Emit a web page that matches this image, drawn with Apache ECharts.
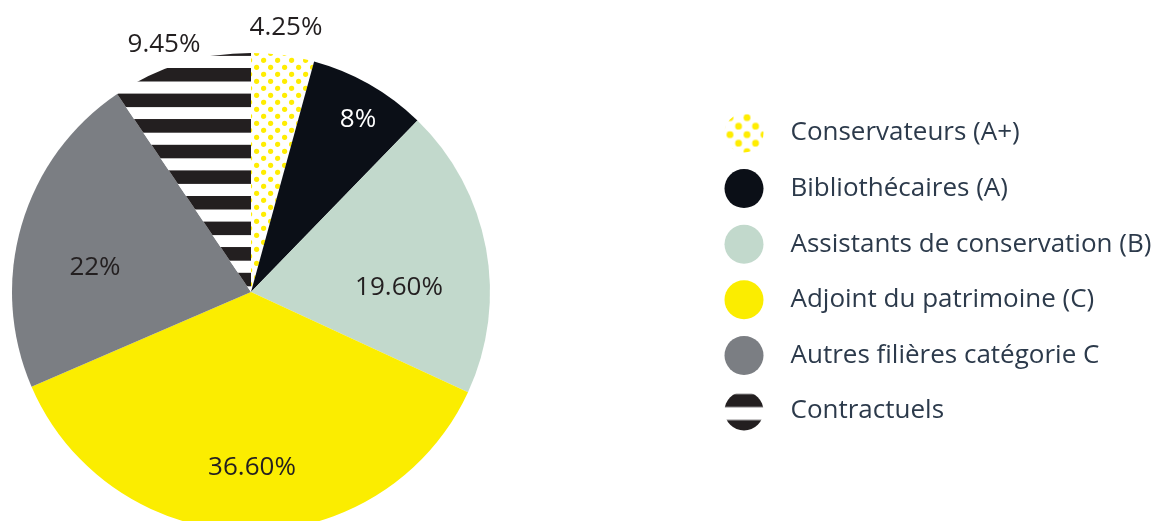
<!DOCTYPE html>
<html>
<head>
<meta charset="utf-8">
<script src="https://cdn.jsdelivr.net/npm/echarts@6/dist/echarts.min.js"></script>
<style>
html,body{margin:0;padding:0;background:#fff;}
#chart{width:1157px;height:521px;}
</style>
</head>
<body>
<div id="chart"></div>
<script>
// ---- data ----
const categories = ['Conservateurs (A+)', 'Bibliothécaires (A)', 'Assistants de conservation (B)', 'Adjoint du patrimoine (C)', 'Autres filières catégorie C', 'Contractuels'];
const values = [4.25, 8, 19.6, 36.6, 22, 9.45];
const valueLabels = ['4.25%', '8%', '19.60%', '36.60%', '22%', '9.45%'];

// ---- layout / style ----
const CENTER = [251, 292];
const RADIUS = 239;
const labelOffsets = [[35, -264], [107, -172], [148, -4], [1, 176], [-156, -24], [-87, -247]];
const labelColors = ['#231f20', '#ffffff', '#231f20', '#231f20', '#231f20', '#231f20'];
const FONT = 'Open Sans';

function dotTile(size, pts, r, color) {
  const c = document.createElement('canvas');
  c.width = size; c.height = size;
  const g = c.getContext('2d');
  g.fillStyle = '#ffffff'; g.fillRect(0, 0, size, size);
  g.fillStyle = color;
  pts.forEach(p => {
    for (let dx = -size; dx <= size; dx += size)
      for (let dy = -size; dy <= size; dy += size) {
        g.beginPath(); g.arc(p[0] + dx, p[1] + dy, r, 0, Math.PI * 2); g.fill();
      }
  });
  return c;
}
function stripeTile(w, h, bands, color) {
  const c = document.createElement('canvas');
  c.width = w; c.height = h;
  const g = c.getContext('2d');
  g.fillStyle = '#ffffff'; g.fillRect(0, 0, w, h);
  g.fillStyle = color;
  bands.forEach(b => { g.fillRect(0, b[0], w, b[1] - b[0]); });
  return c;
}
const YEL = '#ffed00';
const STRIPE = '#231f20';
// pie patterns (canvas anchored)
const piedots = { image: dotTile(14, [[4.6, 11.3], [11.6, 4.3]], 2.6, YEL), repeat: 'repeat' };
const P = 25.6, B = 13.5;
const pieBands = [];
for (let k = -1; k < 6; k++) { const s = 16.8 + k * P; pieBands.push([s, s + B]); pieBands.push([s + 128, s + 128 + B]); }
const piestripes = { image: stripeTile(8, 128, pieBands, STRIPE), repeat: 'repeat' };
// legend patterns (icon anchored)
const legdots = { image: dotTile(17, [[5.5, 4.2], [14, 12.7]], 3.4, YEL), repeat: 'repeat' };
const legstripes = { image: stripeTile(40, 50, [[2.5, 15.5], [28.5, 42]], STRIPE), repeat: 'repeat' };

const sliceColors = [piedots, '#0b0f17', '#c2d9cc', '#fbed00', '#7b7e83', piestripes];
const legendColors = [legdots, '#0b0f17', '#c2d9cc', '#fbed00', '#7b7e83', legstripes];

const chart = echarts.init(document.getElementById('chart'), null, { renderer: 'canvas' });
chart.setOption({
  animation: false,
  backgroundColor: '#ffffff',
  legend: {
    orient: 'vertical',
    left: 719.5,
    top: 108.5,
    icon: 'circle',
    itemWidth: 39,
    itemHeight: 39,
    itemGap: 16.6,
    selectedMode: false,
    textStyle: { fontFamily: FONT, fontSize: 26, color: '#2c3a4b', padding: [0, 0, 0, 22] },
    data: categories.map((n, i) => ({ name: n, itemStyle: { color: legendColors[i] } }))
  },
  series: [{
    type: 'pie',
    center: CENTER,
    radius: RADIUS,
    startAngle: 90,
    clockwise: true,
    avoidLabelOverlap: false,
    silent: true,
    itemStyle: { borderWidth: 0 },
    label: {
      show: true,
      position: 'inside',
      fontFamily: FONT,
      fontSize: 26,
      formatter: p => valueLabels[p.dataIndex]
    },
    labelLine: { show: false },
    labelLayout: p => ({
      x: CENTER[0] + labelOffsets[p.dataIndex][0],
      y: CENTER[1] + labelOffsets[p.dataIndex][1],
      align: 'center',
      verticalAlign: 'middle'
    }),
    data: categories.map((n, i) => ({
      name: n,
      value: values[i],
      itemStyle: { color: sliceColors[i] },
      label: { color: labelColors[i] }
    }))
  }]
});
</script>
</body>
</html>
